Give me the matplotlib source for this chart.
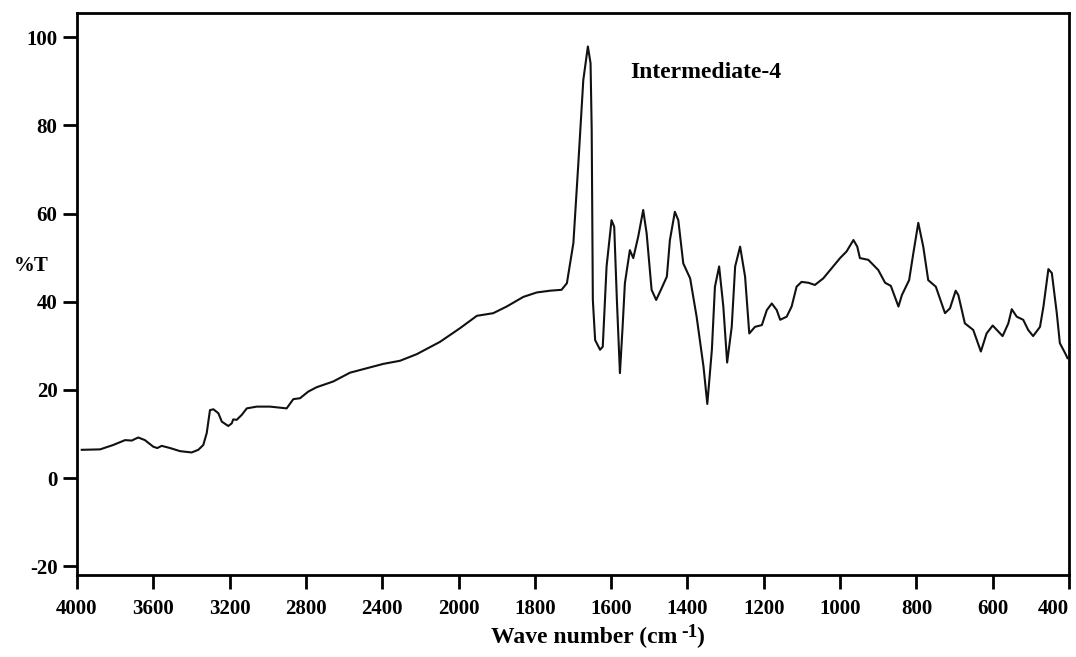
import numpy as np
import matplotlib
matplotlib.use("Agg")
import matplotlib.pyplot as plt

# IR spectrum of Intermediate-4
wavenumber = [3975, 3879, 3810, 3748, 3713, 3679, 3644, 3600, 3579, 3556, 3512,
              3460, 3399, 3364, 3338, 3320, 3303, 3285, 3259, 3241, 3207, 3189,
              3181, 3163, 3137, 3110, 3058, 2988, 2901, 2866, 2831, 2788, 2744,
              2683, 2657, 2569, 2481, 2394, 2307, 2219, 2097, 1996, 1952, 1909,
              1874, 1830, 1795, 1760, 1730, 1716, 1699, 1686, 1673, 1661, 1654,
              1651, 1648, 1642, 1629, 1622, 1612, 1599, 1592, 1585, 1577, 1570,
              1564, 1551, 1542, 1529, 1516, 1507, 1494, 1482, 1468, 1454, 1446,
              1433, 1424, 1411, 1393, 1376, 1358, 1348, 1336, 1328, 1317, 1306,
              1296, 1284, 1275, 1262, 1249, 1238, 1223, 1205, 1192, 1179, 1166,
              1157, 1140, 1127, 1114, 1101, 1083, 1066, 1044, 1018, 1000, 983,
              965, 955, 948, 926, 900, 882, 867, 847, 838, 819, 808, 795, 782,
              769, 749, 725, 712, 697, 690, 673, 651, 631, 616, 600, 574, 559,
              550, 537, 520, 507, 494, 476, 467, 454, 445, 432, 424, 410, 404]
transmittance = [6.4, 6.5, 7.5, 8.6, 8.5, 9.2, 8.6, 7.1, 6.8, 7.3, 6.8,
                 6.1, 5.8, 6.4, 7.5, 10.2, 15.4, 15.6, 14.7, 12.8, 11.8, 12.4,
                 13.3, 13.2, 14.3, 15.8, 16.2, 16.2, 15.8, 17.9, 18.1, 19.6, 20.6,
                 21.5, 21.9, 23.9, 24.9, 25.9, 26.6, 28.1, 30.9, 34.0, 36.8, 37.4,
                 38.9, 41.1, 42.1, 42.5, 42.7, 44.2, 53.3, 71.4, 90.3, 97.9, 94.1,
                 79.0, 40.4, 31.3, 29.1, 29.8, 48.0, 58.5, 57.0, 40.4, 23.8, 34.3,
                 44.2, 51.7, 49.9, 54.8, 60.8, 55.5, 42.7, 40.4, 43.0, 45.7, 54.0,
                 60.4, 58.5, 48.7, 45.3, 36.6, 25.3, 16.8, 29.1, 43.4, 48.0, 38.9,
                 26.2, 34.3, 48.0, 52.5, 45.7, 32.8, 34.3, 34.7, 38.1, 39.6, 38.1,
                 35.9, 36.6, 38.9, 43.4, 44.5, 44.3, 43.8, 45.3, 48.0, 49.9, 51.4,
                 54.0, 52.5, 49.9, 49.5, 47.2, 44.3, 43.6, 38.9, 41.5, 44.9, 51.0, 57.9, 52.5,
                 44.9, 43.4, 37.4, 38.5, 42.5, 41.5, 35.1, 33.6, 28.7, 32.8, 34.6, 32.2, 35.1,
                 38.3, 36.6, 35.9, 33.6, 32.2, 34.3, 38.9, 47.4, 46.5, 37.4, 30.6, 28.3, 27.2]

x_ticks = [4000, 3600, 3200, 2800, 2400, 2000, 1800, 1600, 1400, 1200, 1000, 800, 600, 400]
y_ticks = [-20, 0, 20, 40, 60, 80, 100]


# the spectrometer doubles the scale below 2000 cm-1
def forward(x):
    x = np.asarray(x, dtype=float)
    return np.where(x >= 2000, x, 2 * x - 2000)


def inverse(y):
    y = np.asarray(y, dtype=float)
    return np.where(y >= 2000, y, (y + 2000) / 2)


plt.rcParams['font.family'] = 'Liberation Serif'
plt.rcParams['font.weight'] = 'bold'
plt.rcParams['axes.unicode_minus'] = False

fig = plt.figure(figsize=(10.76, 6.57), dpi=100)
ax = fig.add_axes([77 / 1076, 1 - 575 / 657, 992 / 1076, 562 / 657])

ax.plot(wavenumber, transmittance, color='#111111', lw=1.5)

ax.set_xscale('function', functions=(forward, inverse))
ax.set_xlim(4000, 400)
ax.set_ylim(-22, 105.5)
ax.set_xticks(x_ticks)
ax.set_xticklabels([str(t) for t in x_ticks])
ax.set_yticks(y_ticks)
ax.minorticks_off()

for s in ax.spines.values():
    s.set_linewidth(2)
ax.tick_params(axis='both', direction='out', length=10, width=2, labelsize=15)
ax.tick_params(axis='x', pad=7)
ax.tick_params(axis='y', pad=4)
# last label sits flush against the right edge
ax.get_xticklabels()[-1].set_horizontalalignment('right')

ax.text((630 - 77) / 992, (575 - 72) / 562, "Intermediate-4", transform=ax.transAxes,
        ha='left', va='center', fontsize=17, fontweight='bold')

fig.text(31 / 1076, 1 - 266 / 657, "%T", ha='center', va='center', fontsize=15, fontweight='bold')
fig.text(677 / 1076, 1 - 643 / 657, "Wave number (cm", ha='right', va='baseline',
         fontsize=17, fontweight='bold')
fig.text(681 / 1076, 1 - 637 / 657, "-1", ha='left', va='baseline', fontsize=14, fontweight='bold')
fig.text(696 / 1076, 1 - 643 / 657, ")", ha='left', va='baseline', fontsize=17, fontweight='bold')

fig.savefig("out.png", dpi=100)
